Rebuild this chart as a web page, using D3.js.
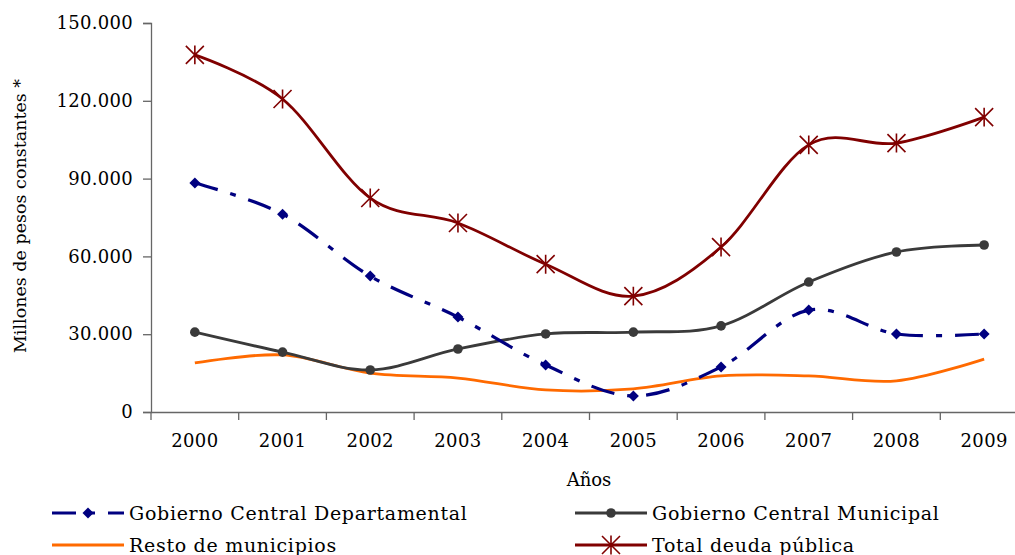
<!DOCTYPE html>
<html><head><meta charset="utf-8">
<script src="https://cdn.jsdelivr.net/npm/d3@7"></script>
<style>body{margin:0;background:#fff}svg{display:block}text{font-family:"DejaVu Serif",serif;fill:#000}</style>
</head><body><svg id="c" width="1015" height="555"></svg>
<script>
const years = ["2000","2001","2002","2003","2004","2005","2006","2007","2008","2009"];
const departamental = [88300,76300,52400,36600,18100,6200,17400,39300,30100,30100];
const municipal = [30800,23100,16200,24300,30100,30800,33200,50100,61700,64400];
const resto = [18900,22000,15000,13100,8500,8900,13900,13900,12000,20400];
const total = [137700,120700,82500,72900,57000,44700,63600,103000,103700,113700];
const yTicks = [0,30000,60000,90000,120000,150000];
const seriesNames = ["Gobierno Central Departamental","Gobierno Central Municipal","Resto de municipios","Total deuda pública"];

const svg = d3.select("#c");
const x = d3.scaleBand().domain(years).range([151,1028]);
const y = d3.scaleLinear().domain([0,150000]).range([412,23]);
const fmt = v => d3.format(",")(v).replace(/,/g,".");

// y axis
const ya = svg.append("g").attr("transform","translate(151,0)")
  .call(d3.axisLeft(y).tickValues(yTicks).tickFormat(fmt).tickSize(8).tickPadding(10));
ya.select(".domain").attr("stroke","#666").attr("stroke-width",1.3);
ya.selectAll(".tick line").attr("stroke","#666").attr("stroke-width",1.3);
ya.selectAll("text").attr("font-family","DejaVu Serif").attr("font-size",18).attr("letter-spacing",0.3);

// x axis
const xa = svg.append("g").attr("transform","translate(0,412)")
  .call(d3.axisBottom(x).tickSize(0).tickPadding(22));
xa.select(".domain").attr("stroke","#666").attr("stroke-width",1.3);
xa.selectAll("text").attr("font-family","DejaVu Serif").attr("font-size",18).attr("letter-spacing",0.4);
// tick marks between categories
svg.append("g").selectAll("line").data(years.concat(["end"])).join("line")
  .attr("x1",(d,i)=>151+i*x.step()).attr("x2",(d,i)=>151+i*x.step())
  .attr("y1",412).attr("y2",420).attr("stroke","#666").attr("stroke-width",1.3);

svg.append("text").attr("x",589).attr("y",486).attr("text-anchor","middle").attr("font-size",18).text("Años");
svg.append("text").attr("transform","translate(26,216) rotate(-90)").attr("text-anchor","middle").attr("font-size",17.5).text("Millones de pesos constantes *");

const cx = i => x(years[i]) + x.bandwidth()/2;
const line = d3.line().x((d,i)=>cx(i)).y(d=>y(d)).curve(d3.curveCatmullRom.alpha(0));

const colors = ["#000080","#3a3a3a","#ff6a00","#800000"];
const dataSets = [departamental,municipal,resto,total];
const dash = ["24,13,6,13",null,null,null];

function marker(g, k, px, py){
  if(k===0){
    g.append("path").attr("d",`M${px},${py-5.5}L${px+5.5},${py}L${px},${py+5.5}L${px-5.5},${py}Z`).attr("fill",colors[0]);
  } else if(k===1){
    g.append("circle").attr("cx",px).attr("cy",py).attr("r",4.8).attr("fill",colors[1]);
  } else if(k===3){
    const s=9;
    g.append("path").attr("d",`M${px-s},${py-s}L${px+s},${py+s}M${px-s},${py+s}L${px+s},${py-s}M${px},${py-s*1.05}L${px},${py+s*1.05}`)
      .attr("stroke",colors[3]).attr("stroke-width",1.6).attr("fill","none");
  }
}

[2,1,0,3].forEach(k=>{
  svg.append("path").attr("d",line(dataSets[k])).attr("fill","none")
    .attr("stroke",colors[k]).attr("stroke-width",k===0?3.2:2.8)
    .attr("stroke-dasharray",dash[k]);
  const g = svg.append("g");
  dataSets[k].forEach((v,i)=>marker(g,k,cx(i),y(v)));
});

// legend
const legPos = [[52,513],[575,513],[52,545],[575,545]];
seriesNames.forEach((n,k)=>{
  const [lx,ly]=legPos[k];
  const g = svg.append("g");
  if(k===0){
    g.append("path").attr("d",`M${lx},${ly}L${lx+72},${ly}`).attr("stroke",colors[0]).attr("stroke-width",3.2).attr("stroke-dasharray","24,13,6,13");
  } else {
    g.append("path").attr("d",`M${lx},${ly}L${lx+72},${ly}`).attr("stroke",colors[k]).attr("stroke-width",3);
  }
  marker(g,k,lx+36,ly);
  g.append("text").attr("x",lx+77).attr("y",ly+6.5).attr("font-size",19).attr("letter-spacing",0.7).text(n);
});
</script></body></html>
